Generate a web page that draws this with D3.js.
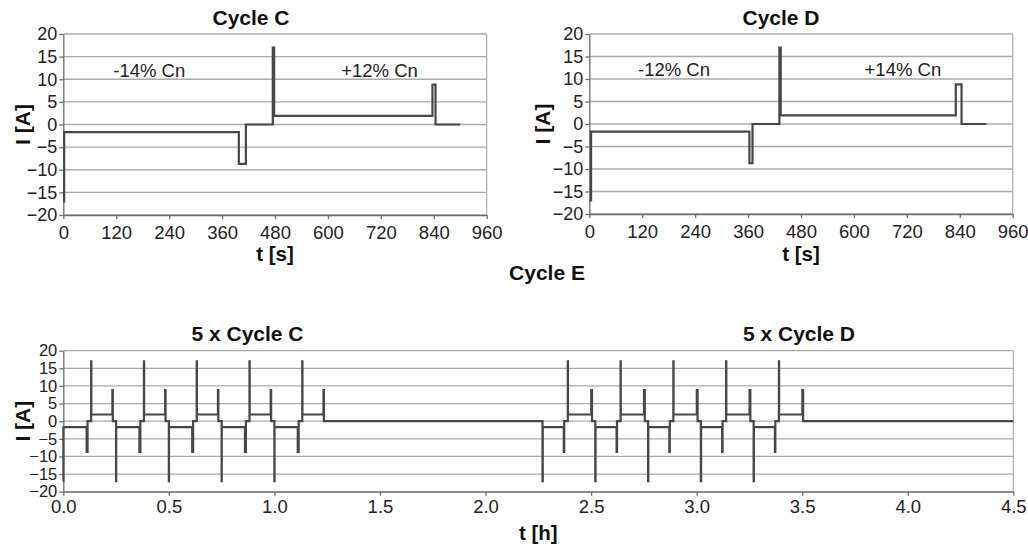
<!DOCTYPE html>
<html>
<head>
<meta charset="utf-8">
<script src="https://cdn.jsdelivr.net/npm/d3@7/dist/d3.min.js"></script>
<style>
body { margin: 0; background: #fff; }
svg { font-family: "Liberation Sans", Arial, sans-serif; }
.axis path, .axis line { stroke: #6e6e6e; stroke-width: 1.3; }
.axis text { fill: #222; }
.title { font-weight: bold; fill: #111; }
</style>
</head>
<body>
<script>

// CYCLE C: time of each step [s] and current level from that time on [A]
var cycleCTimes  = [0, 2, 398, 414, 475, 478, 837, 844, 900];
var cycleCLevels = [-17, -1.7, -8.7, 0, 17, 1.9, 8.8, 0, 0];

// CYCLE D
var cycleDTimes  = [0, 4, 363, 370, 431, 434, 831, 844, 900];
var cycleDLevels = [-17, -1.7, -8.7, 0, 17, 1.9, 8.8, 0, 0];

// CYCLE E: 5 x C, rest, 5 x D, rest
var cycleEBlocks  = ["C", "D"];
var cycleEStartsH = [0, 2.27];
var cycleERepeats = 5;
var cycleEEndH    = 4.5;

// tick labels
var currentTicks = [-20, -15, -10, -5, 0, 5, 10, 15, 20];
var secondTicks  = [0, 120, 240, 360, 480, 600, 720, 840, 960];
var hourTicks    = [0, 0.5, 1, 1.5, 2, 2.5, 3, 3.5, 4, 4.5];

// annotations
var notesC = ["-14% Cn", "+12% Cn"];
var notesD = ["-12% Cn", "+14% Cn"];
var notesT = [195, 717];
var notesDT = [192, 711];
var notesI = 12;


function toPoints(times, levels) {
    return times.map(function(t, k) { return {t: t, i: levels[k]}; });
}

var dataC = toPoints(cycleCTimes, cycleCLevels);
var dataD = toPoints(cycleDTimes, cycleDLevels);

// build cycle E in hours from the two cycles
var dataE = [];
cycleEBlocks.forEach(function(name, b) {
    var times = name == "C" ? cycleCTimes : cycleDTimes;
    var levels = name == "C" ? cycleCLevels : cycleDLevels;
    var cycleLen = times[times.length - 1] / 3600;
    if (b > 0) dataE.push({t: cycleEStartsH[b - 1] + cycleERepeats * cycleLen, i: 0});
    for (var r = 0; r < cycleERepeats; r++) {
        for (var k = 0; k < times.length - 1; k++) {
            dataE.push({t: cycleEStartsH[b] + r * cycleLen + times[k] / 3600, i: levels[k]});
        }
    }
});
dataE.push({t: cycleEStartsH[1] + cycleERepeats * cycleDTimes[cycleDTimes.length - 1] / 3600, i: 0});
dataE.push({t: cycleEEndH, i: 0});


//PAGE ELEMENTS
var svg = d3.select("body").append("svg").attr("width", 1028).attr("height", 547);


function drawChart(cfg) {
    var g = svg.append("g");

    //SCALES
    var xScale = d3.scaleLinear().domain(cfg.xDomain).range([cfg.left, cfg.right]);
    var yScale = d3.scaleLinear().domain([-20, 20]).range([cfg.bottom, cfg.top]);

    //GRID
    g.selectAll(".grid").data(currentTicks).enter().append("line")
        .attr("x1", cfg.left).attr("x2", cfg.right)
        .attr("y1", function(d) { return yScale(d); })
        .attr("y2", function(d) { return yScale(d); })
        .attr("stroke", "#ababab").attr("stroke-width", 1.3);

    g.append("line")
        .attr("x1", cfg.right).attr("x2", cfg.right)
        .attr("y1", cfg.top).attr("y2", cfg.bottom)
        .attr("stroke", "#b4b4b4").attr("stroke-width", 1.3);

    //AXIS
    var xAxis = d3.axisBottom(xScale).tickValues(cfg.xTicks).tickFormat(cfg.xFormat)
        .tickSize(4).tickSizeOuter(0).tickPadding(cfg.xPad);
    var yAxis = d3.axisLeft(yScale).tickValues(currentTicks)
        .tickSize(4).tickSizeOuter(0).tickPadding(2);

    g.append("g").attr("class", "axis")
        .attr("transform", "translate(0," + cfg.bottom + ")")
        .call(xAxis)
        .selectAll("text").attr("font-size", cfg.xFont);

    g.append("g").attr("class", "axis")
        .attr("transform", "translate(" + cfg.left + ",0)")
        .call(yAxis)
        .selectAll("text").attr("font-size", cfg.yFont);

    //CHART LINE
    var line = d3.line()
        .x(function(d) { return xScale(d.t); })
        .y(function(d) { return yScale(d.i); })
        .curve(d3.curveStepAfter);

    g.append("path")
        .attr("d", line(cfg.data))
        .attr("fill", "none")
        .attr("stroke", "#474747")
        .attr("stroke-width", 2.2)
        .attr("stroke-linejoin", "miter");

    //AXIS TITLES
    g.append("text").attr("class", "title")
        .attr("x", (cfg.left + cfg.right) / 2).attr("y", cfg.xTitleY)
        .attr("text-anchor", "middle").attr("font-size", 20.5)
        .text(cfg.xTitle);

    g.append("text").attr("class", "title")
        .attr("transform", "translate(" + (cfg.left - cfg.yTitleOff) + "," + ((cfg.top + cfg.bottom) / 2) + ") rotate(-90)")
        .attr("text-anchor", "middle").attr("dy", "0.35em").attr("font-size", 21)
        .text("I [A]");

    //NOTES
    if (cfg.notes) {
        g.selectAll(".note").data(cfg.notes).enter().append("text")
            .attr("x", function(d, k) { return xScale(cfg.noteT[k]); })
            .attr("y", yScale(notesI))
            .attr("dy", "0.35em")
            .attr("text-anchor", "middle")
            .attr("font-size", 18.5)
            .attr("fill", "#222")
            .text(function(d) { return d; });
    }
    return xScale;
}

drawChart({
    data: dataC, xDomain: [0, 960], xTicks: secondTicks, xFormat: d3.format("d"),
    left: 63.3, right: 486.7, top: 34, bottom: 215,
    xPad: 7, xFont: 18.5, yFont: 18, xTitle: "t [s]", xTitleY: 261, yTitleOff: 41,
    notes: notesC, noteT: notesT
});

drawChart({
    data: dataD, xDomain: [0, 960], xTicks: secondTicks, xFormat: d3.format("d"),
    left: 589.3, right: 1012.7, top: 34, bottom: 214,
    xPad: 7, xFont: 18.5, yFont: 18, xTitle: "t [s]", xTitleY: 261, yTitleOff: 47,
    notes: notesD, noteT: notesDT
});

drawChart({
    data: dataE, xDomain: [0, 4.5], xTicks: hourTicks, xFormat: d3.format(".1f"),
    left: 63.3, right: 1013.3, top: 350.7, bottom: 491.7,
    xPad: 4, xFont: 18.5, yFont: 16.5, xTitle: "t [h]", xTitleY: 540, yTitleOff: 41
});

//CHART TITLES
svg.append("text").attr("class", "title").attr("x", 251).attr("y", 25)
    .attr("text-anchor", "middle").attr("font-size", 21).text("Cycle C");
svg.append("text").attr("class", "title").attr("x", 781).attr("y", 25)
    .attr("text-anchor", "middle").attr("font-size", 21).text("Cycle D");
svg.append("text").attr("class", "title").attr("x", 547).attr("y", 280)
    .attr("text-anchor", "middle").attr("font-size", 21).text("Cycle E");
svg.append("text").attr("class", "title").attr("x", 247.5).attr("y", 341)
    .attr("text-anchor", "middle").attr("font-size", 21).text("5 x Cycle C");
svg.append("text").attr("class", "title").attr("x", 799).attr("y", 341)
    .attr("text-anchor", "middle").attr("font-size", 21).text("5 x Cycle D");

</script>
</body>
</html>
